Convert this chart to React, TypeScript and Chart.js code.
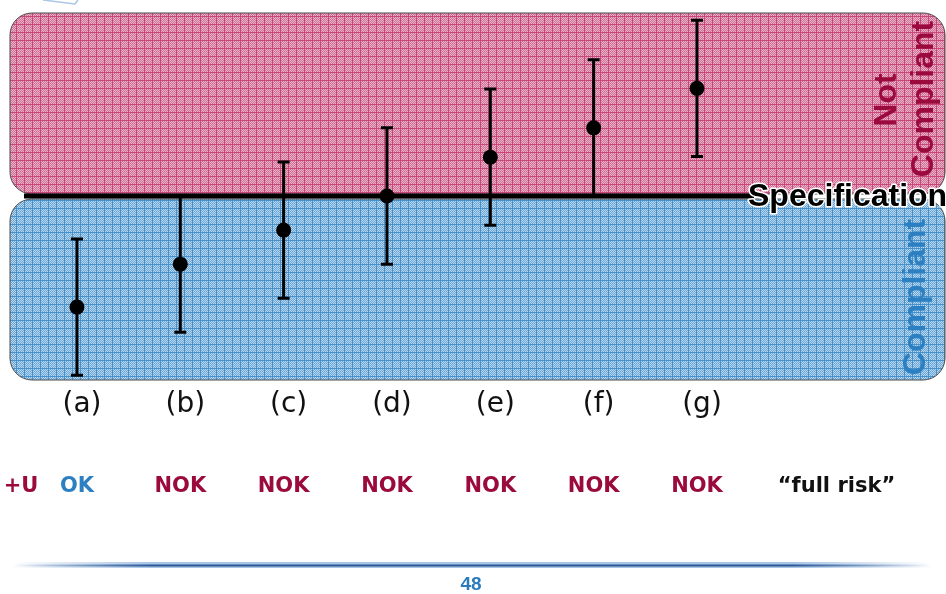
import { useEffect, useRef } from "react";
import { Chart, registerables } from "chart.js";

Chart.register(...registerables);

// Measurement results (arbitrary units) with expanded uncertainty U
const samples = ["(a)", "(b)", "(c)", "(d)", "(e)", "(f)", "(g)"];
const measured = [8.37, 9.0, 9.5, 10.0, 10.57, 11.0, 11.58];
const uncertainty = [1.0, 1.0, 1.0, 1.0, 1.0, 1.0, 1.0];
const specLimit = 10;
// Decision with the "+U" guard band
const verdicts = ["OK", "NOK", "NOK", "NOK", "NOK", "NOK", "NOK"];
const ruleLabel = "+U";
const riskLabel = "\u201cfull risk\u201d";
const pageNumber = "48";

const PINK_TEXT = "#9b0a3c";
const BLUE_TEXT = "#2c7fc1";

function makePattern(
  ctx: CanvasRenderingContext2D,
  base: string,
  light: string,
  line: string
) {
  const n = 8;
  const c = document.createElement("canvas");
  c.width = n;
  c.height = n;
  const g = c.getContext("2d")!;
  g.fillStyle = base;
  g.fillRect(0, 0, n, n);
  g.fillStyle = light;
  for (let i = 0; i < n; i++) {
    for (let j = 0; j < n; j++) {
      if ((i + j) % 2 === 0) g.fillRect(i, j, 1, 1);
    }
  }
  g.fillStyle = line;
  g.fillRect(0, 0, n, 1);
  g.fillRect(0, 0, 1, n);
  return ctx.createPattern(c, "repeat")!;
}

function roundRect(
  ctx: CanvasRenderingContext2D,
  x: number,
  y: number,
  w: number,
  h: number,
  r: number
) {
  ctx.beginPath();
  ctx.moveTo(x + r, y);
  ctx.lineTo(x + w - r, y);
  ctx.arcTo(x + w, y, x + w, y + r, r);
  ctx.lineTo(x + w, y + h - r);
  ctx.arcTo(x + w, y + h, x + w - r, y + h, r);
  ctx.lineTo(x + r, y + h);
  ctx.arcTo(x, y + h, x, y + h - r, r);
  ctx.lineTo(x, y + r);
  ctx.arcTo(x, y, x + r, y, r);
  ctx.closePath();
}

const zonesPlugin = {
  id: "zones",
  beforeDatasetsDraw(chart: any) {
    const { ctx, chartArea: ca, scales } = chart;
    const ys = scales.y;
    const sy = ys.getPixelForValue(specLimit);

    // small slide remnant at the top-left corner
    ctx.save();
    ctx.strokeStyle = "#a9c7e6";
    ctx.lineWidth = 1.5;
    ctx.beginPath();
    ctx.moveTo(43, 0);
    ctx.lineTo(75, 4);
    ctx.lineTo(78, 0);
    ctx.stroke();
    ctx.restore();

    // "Not compliant" zone
    ctx.save();
    roundRect(ctx, ca.left, ca.top + 1, ca.right - ca.left, sy - 2 - ca.top - 1, 22);
    ctx.fillStyle = makePattern(ctx, "#d06f96", "#ebb3c8", "#c8467a");
    ctx.fill();
    ctx.strokeStyle = "#4a4a4a";
    ctx.lineWidth = 1;
    ctx.stroke();

    // "Compliant" zone
    roundRect(ctx, ca.left, sy + 3, ca.right - ca.left, ca.bottom - sy - 3, 22);
    ctx.fillStyle = makePattern(ctx, "#6aa6d5", "#b9d8ef", "#4690cb");
    ctx.fill();
    ctx.stroke();
    ctx.restore();

    // specification limit
    const textX = 748;
    ctx.save();
    ctx.strokeStyle = "#000";
    ctx.lineWidth = 5;
    ctx.beginPath();
    ctx.moveTo(ca.left + 14, sy);
    ctx.lineTo(textX + 6, sy);
    ctx.stroke();
    ctx.font = "bold 32px 'Liberation Sans', Arial, sans-serif";
    ctx.textBaseline = "middle";
    ctx.textAlign = "left";
    ctx.lineWidth = 3;
    ctx.strokeStyle = "#fff";
    ctx.lineJoin = "round";
    ctx.strokeText("Specification", textX, sy + 1);
    ctx.fillStyle = "#000";
    ctx.fillText("Specification", textX, sy + 1);
    ctx.restore();

    // zone captions
    const vtext = (txt: string, x: number, y: number, color: string) => {
      ctx.save();
      ctx.translate(x, y);
      ctx.rotate(-Math.PI / 2);
      ctx.font = "bold 32px 'Liberation Sans', Arial, sans-serif";
      ctx.textAlign = "center";
      ctx.textBaseline = "middle";
      ctx.fillStyle = color;
      ctx.fillText(txt, 0, 0);
      ctx.restore();
    };
    vtext("Not", 887, 100, PINK_TEXT);
    vtext("Compliant", 924, 99, PINK_TEXT);
    vtext("Compliant", 916, 297, BLUE_TEXT);

    // uncertainty bars
    const xs = scales.x;
    ctx.save();
    ctx.strokeStyle = "#000";
    ctx.lineWidth = 3;
    measured.forEach((v, i) => {
      const px = xs.getPixelForValue(i + 1);
      const top = ys.getPixelForValue(v + uncertainty[i]);
      const bot = ys.getPixelForValue(v - uncertainty[i]);
      ctx.beginPath();
      ctx.moveTo(px, top);
      ctx.lineTo(px, bot);
      ctx.moveTo(px - 6, top);
      ctx.lineTo(px + 6, top);
      ctx.moveTo(px - 6, bot);
      ctx.lineTo(px + 6, bot);
      ctx.stroke();
    });
    ctx.restore();
  },
  afterDraw(chart: any) {
    const { ctx, chartArea: ca, scales } = chart;
    const xs = scales.x;
    ctx.save();
    // sample labels
    ctx.font = "28px 'DejaVu Sans', sans-serif";
    ctx.textAlign = "center";
    ctx.textBaseline = "middle";
    ctx.fillStyle = "#111";
    samples.forEach((s, i) => {
      ctx.fillText(s, xs.getPixelForValue(i + 1) + 5, ca.bottom + 25);
    });

    // decisions
    const rowY = 487;
    ctx.font = "bold 21px 'DejaVu Sans', sans-serif";
    ctx.fillStyle = PINK_TEXT;
    ctx.fillText(ruleLabel, 21, rowY);
    verdicts.forEach((v, i) => {
      ctx.fillStyle = v === "OK" ? BLUE_TEXT : PINK_TEXT;
      ctx.fillText(v, xs.getPixelForValue(i + 1), rowY);
    });
    ctx.fillStyle = "#111";
    ctx.fillText(riskLabel, xs.getPixelForValue(8.35), rowY);

    // footer rule
    const x0 = 12;
    const x1 = 932;
    const fy = 565;
    const soft = ctx.createLinearGradient(x0, 0, x1, 0);
    soft.addColorStop(0, "rgba(140,178,222,0)");
    soft.addColorStop(0.15, "rgba(140,178,222,0.75)");
    soft.addColorStop(0.85, "rgba(140,178,222,0.75)");
    soft.addColorStop(1, "rgba(140,178,222,0)");
    ctx.fillStyle = soft;
    ctx.fillRect(x0, fy - 3, x1 - x0, 6);
    const core = ctx.createLinearGradient(x0, 0, x1, 0);
    core.addColorStop(0, "rgba(45,90,150,0)");
    core.addColorStop(0.15, "rgba(45,90,150,1)");
    core.addColorStop(0.85, "rgba(45,90,150,1)");
    core.addColorStop(1, "rgba(45,90,150,0)");
    ctx.fillStyle = core;
    ctx.fillRect(x0, fy - 0.5, x1 - x0, 2);

    // page number
    ctx.font = "bold 19px 'Liberation Sans Narrow', 'Liberation Sans', sans-serif";
    ctx.fillStyle = "#2b7bbd";
    ctx.fillText(pageNumber, 471, 585);
    ctx.restore();
  },
};

export default function App() {
  const ref = useRef<HTMLCanvasElement>(null);

  useEffect(() => {
    if (!ref.current) return;
    const chart = new Chart(ref.current, {
      type: "scatter",
      data: {
        datasets: [
          {
            data: measured.map((v, i) => ({ x: i + 1, y: v })),
            pointRadius: 7.5,
            pointHoverRadius: 7.5,
            backgroundColor: "#000",
            borderWidth: 0,
            showLine: false,
          },
        ],
      },
      options: {
        responsive: false,
        animation: false,
        devicePixelRatio: 1,
        layout: { autoPadding: false, padding: { left: 10, right: 1, top: 12, bottom: 214 } },
        plugins: { legend: { display: false }, tooltip: { enabled: false } },
        scales: {
          x: { type: "linear", display: false, min: 0.352, max: 9.4 },
          y: { type: "linear", display: false, min: 7.3, max: 12.7 },
        },
      },
      plugins: [zonesPlugin],
    });
    return () => chart.destroy();
  }, []);

  return (
    <div style={{ position: "absolute", left: 0, top: 0, width: 946, height: 594, background: "#fff" }}>
      <canvas ref={ref} width={946} height={594} style={{ display: "block" }} />
    </div>
  );
}
